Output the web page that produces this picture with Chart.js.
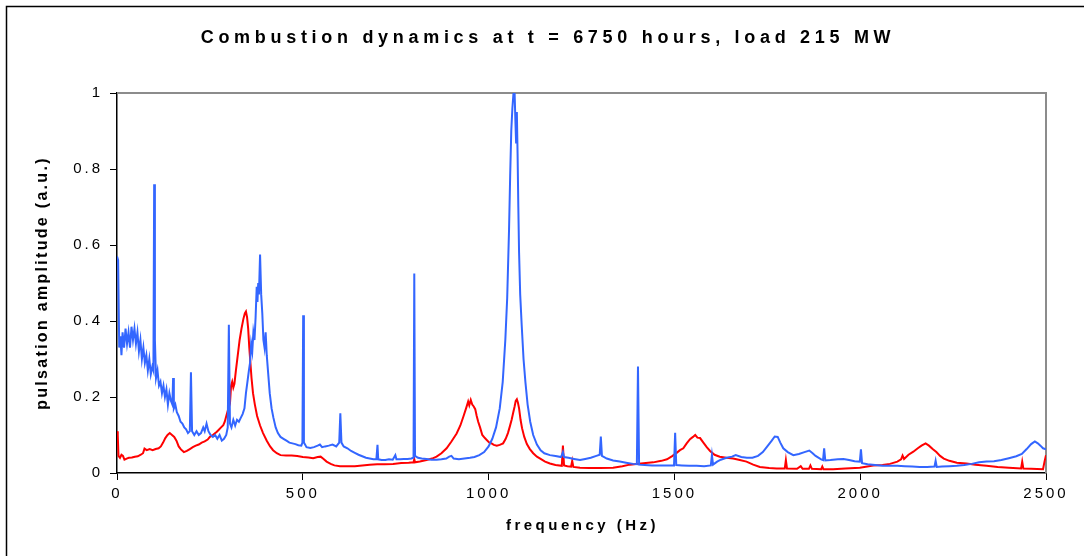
<!DOCTYPE html>
<html>
<head>
<meta charset="utf-8">
<script src="https://cdn.jsdelivr.net/npm/chart.js@4.4.1/dist/chart.umd.min.js"></script>
<style>
  body { margin: 0; background: #fff; }
  #wrap { width: 1084px; height: 556px; position: relative; }
</style>
</head>
<body>
<div id="wrap"><canvas id="myChart"></canvas></div>
<script>
const titleText = 'Combustion dynamics at t = 6750 hours, load 215 MW'
const xTitle = 'frequency (Hz)'
const yTitle = 'pulsation amplitude (a.u.)'
const xTicks = [0, 500, 1000, 1500, 2000, 2500]
const yTicks = [0, 0.2, 0.4, 0.6, 0.8, 1]

// blue trace
const blueHz = [0, 3, 6, 9, 12, 15, 19, 23, 27, 31, 35, 39, 43, 47, 51, 55, 59, 63, 67, 71, 75, 79, 83, 87, 91, 95, 98, 100, 102, 105, 109, 113, 117, 121, 125, 129, 133, 137, 141, 145, 149, 151, 153, 157, 161, 166, 171, 176, 181, 186, 191, 196, 199, 202, 208, 214, 220, 226, 232, 236, 241, 246, 252, 258, 264, 270, 276, 282, 288, 294, 298, 301, 304, 308, 313, 318, 323, 328, 333, 338, 343, 347, 351, 355, 358, 361, 364, 367, 370, 373, 376, 378, 380, 382, 385, 388, 391, 394, 397, 400, 403, 407, 411, 416, 421, 427, 433, 440, 448, 456, 464, 472, 480, 488, 496, 499, 501, 503, 510, 520, 530, 540, 546, 552, 560, 570, 580, 590, 598, 601, 604, 610, 620, 630, 640, 650, 660, 670, 680, 690, 698, 701, 703, 712, 722, 732, 742, 749, 752, 762, 772, 782, 792, 798, 800, 802, 810, 820, 833, 846, 860, 873, 886, 894, 900, 906, 920, 935, 950, 962, 975, 988, 1000, 1010, 1020, 1030, 1038, 1045, 1050, 1055, 1058, 1061, 1064, 1067, 1070, 1072, 1074, 1076, 1078, 1080, 1082, 1085, 1089, 1094, 1099, 1105, 1112, 1120, 1130, 1140, 1150, 1165, 1180, 1195, 1200, 1203, 1215, 1230, 1246, 1260, 1275, 1290, 1299, 1302, 1305, 1318, 1335, 1353, 1370, 1389, 1399, 1402, 1405, 1420, 1440, 1460, 1480, 1499, 1502, 1505, 1520, 1540, 1560, 1580, 1598, 1601, 1604, 1615, 1625, 1640, 1655, 1665, 1680, 1695, 1710, 1725, 1738, 1750, 1762, 1770, 1778, 1785, 1793, 1805, 1820, 1835, 1850, 1863, 1872, 1880, 1895, 1900, 1903, 1906, 1920, 1940, 1955, 1970, 1985, 1999, 2002, 2005, 2020, 2040, 2060, 2080, 2100, 2120, 2140, 2160, 2180, 2200, 2203, 2206, 2220, 2240, 2260, 2280, 2300, 2320, 2340, 2360, 2380, 2400, 2420, 2435, 2448, 2460, 2470, 2478, 2485, 2492, 2500]
const blueAmp = [0.57, 0.56, 0.33, 0.36, 0.31, 0.37, 0.33, 0.38, 0.34, 0.37, 0.33, 0.385, 0.35, 0.38, 0.34, 0.37, 0.32, 0.35, 0.3, 0.33, 0.29, 0.31, 0.27, 0.3, 0.26, 0.28, 0.27, 0.76, 0.35, 0.25, 0.27, 0.23, 0.24, 0.21, 0.23, 0.2, 0.22, 0.18, 0.21, 0.19, 0.18, 0.25, 0.17, 0.18, 0.16, 0.15, 0.135, 0.13, 0.12, 0.115, 0.105, 0.11, 0.265, 0.11, 0.1, 0.11, 0.1, 0.105, 0.12, 0.11, 0.13, 0.11, 0.1, 0.095, 0.1, 0.09, 0.1, 0.085, 0.09, 0.1, 0.12, 0.39, 0.13, 0.12, 0.14, 0.125, 0.14, 0.135, 0.145, 0.155, 0.17, 0.21, 0.24, 0.27, 0.29, 0.34, 0.32, 0.37, 0.35, 0.41, 0.49, 0.45, 0.5, 0.47, 0.575, 0.47, 0.42, 0.35, 0.33, 0.37, 0.31, 0.26, 0.21, 0.17, 0.145, 0.12, 0.105, 0.095, 0.09, 0.085, 0.08, 0.078, 0.076, 0.073, 0.072, 0.08, 0.415, 0.08, 0.068, 0.066, 0.068, 0.072, 0.075, 0.068, 0.07, 0.072, 0.075, 0.07, 0.08, 0.157, 0.08, 0.07, 0.065, 0.058, 0.053, 0.048, 0.044, 0.04, 0.038, 0.036, 0.036, 0.074, 0.036, 0.034, 0.034, 0.036, 0.035, 0.047, 0.036, 0.036, 0.037, 0.037, 0.038, 0.04, 0.525, 0.045, 0.04, 0.038, 0.037, 0.035, 0.035, 0.036, 0.038, 0.043, 0.045, 0.038, 0.036, 0.038, 0.04, 0.042, 0.047, 0.055, 0.07, 0.09, 0.12, 0.17, 0.24, 0.35, 0.46, 0.64, 0.78, 0.9, 0.96, 1.0, 1.0, 0.93, 0.87, 0.95, 0.84, 0.7, 0.58, 0.47, 0.39, 0.3, 0.24, 0.18, 0.135, 0.1, 0.075, 0.06, 0.052, 0.047, 0.045, 0.042, 0.055, 0.042, 0.04, 0.037, 0.034, 0.037, 0.04, 0.045, 0.048, 0.096, 0.045, 0.038, 0.033, 0.03, 0.027, 0.024, 0.023, 0.28, 0.022, 0.021, 0.02, 0.02, 0.02, 0.02, 0.106, 0.021, 0.02, 0.019, 0.019, 0.018, 0.02, 0.047, 0.022, 0.03, 0.035, 0.04, 0.043, 0.047, 0.042, 0.04, 0.04, 0.045, 0.055, 0.07, 0.085, 0.096, 0.095, 0.08, 0.065, 0.055, 0.047, 0.05, 0.055, 0.059, 0.052, 0.045, 0.036, 0.034, 0.065, 0.033, 0.034, 0.036, 0.037, 0.034, 0.031, 0.03, 0.062, 0.026, 0.023, 0.021, 0.019, 0.019, 0.019, 0.018, 0.017, 0.016, 0.016, 0.017, 0.032, 0.016, 0.017, 0.018, 0.019, 0.021, 0.024, 0.028, 0.03, 0.031, 0.034, 0.039, 0.044, 0.05, 0.063, 0.076, 0.083, 0.078, 0.072, 0.065, 0.062]

// red trace
const redHz = [0, 2, 4, 8, 12, 16, 20, 26, 32, 40, 48, 56, 64, 70, 74, 80, 88, 96, 104, 112, 118, 124, 130, 136, 142, 148, 154, 160, 166, 172, 180, 188, 196, 204, 212, 220, 228, 236, 244, 250, 256, 262, 268, 274, 280, 286, 290, 295, 300, 304, 307, 310, 313, 316, 320, 325, 330, 335, 340, 344, 347, 350, 353, 356, 359, 362, 366, 371, 377, 385, 393, 403, 412, 420, 430, 440, 455, 470, 485, 500, 515, 528, 540, 548, 556, 564, 575, 585, 600, 620, 640, 660, 680, 700, 720, 743, 765, 785, 798, 800, 802, 815, 833, 848, 860, 873, 887, 900, 914, 924, 932, 940, 945, 948, 952, 956, 960, 964, 968, 972, 977, 983, 990, 995, 1002, 1008, 1014, 1022, 1030, 1039, 1046, 1052, 1057, 1062, 1066, 1070, 1073, 1076, 1079, 1082, 1086, 1090, 1096, 1103, 1111, 1120, 1130, 1140, 1152, 1165, 1180, 1197, 1200, 1203, 1212, 1222, 1225, 1228, 1246, 1270, 1300, 1335, 1360, 1380, 1410, 1443, 1465, 1480, 1495, 1506, 1515, 1524, 1533, 1542, 1550, 1556, 1562, 1569, 1578, 1587, 1596, 1608, 1622, 1640, 1658, 1676, 1694, 1712, 1730, 1755, 1775, 1797, 1800, 1803, 1830, 1840, 1845, 1862, 1866, 1870, 1895, 1898, 1901, 1927, 1960, 1999, 2035, 2060, 2080, 2100, 2110, 2114, 2118, 2130, 2143, 2155, 2165, 2176, 2185, 2195, 2205, 2215, 2225, 2240, 2260, 2286, 2310, 2340, 2370, 2400, 2433, 2436, 2439, 2460, 2492, 2496, 2500]
const redAmp = [0.11, 0.1, 0.045, 0.04, 0.048, 0.045, 0.035, 0.038, 0.04, 0.041, 0.043, 0.044, 0.048, 0.052, 0.064, 0.06, 0.063, 0.06, 0.063, 0.065, 0.07, 0.08, 0.092, 0.1, 0.105, 0.1, 0.095, 0.085, 0.07, 0.062, 0.055, 0.058, 0.063, 0.068, 0.072, 0.075, 0.08, 0.083, 0.088, 0.095, 0.098, 0.103, 0.108, 0.114, 0.12, 0.126, 0.135, 0.153, 0.17, 0.183, 0.23, 0.24, 0.225, 0.235, 0.27, 0.31, 0.35, 0.38, 0.405, 0.42, 0.425, 0.41, 0.38, 0.33, 0.29, 0.25, 0.21, 0.18, 0.15, 0.125, 0.105, 0.085, 0.07, 0.06, 0.052, 0.047, 0.046, 0.046, 0.045, 0.042, 0.041, 0.039, 0.042, 0.043, 0.037, 0.03, 0.024, 0.02, 0.018, 0.018, 0.018, 0.02, 0.022, 0.023, 0.023, 0.024, 0.026, 0.027, 0.028, 0.036, 0.028, 0.03, 0.034, 0.038, 0.043, 0.052, 0.065, 0.083, 0.104, 0.125, 0.148, 0.172, 0.188, 0.178, 0.192, 0.18, 0.175, 0.168, 0.15, 0.135, 0.12, 0.1, 0.092, 0.087, 0.08, 0.078, 0.074, 0.072, 0.074, 0.078, 0.09, 0.105, 0.122, 0.14, 0.158, 0.175, 0.19, 0.194, 0.185, 0.17, 0.14, 0.118, 0.095, 0.076, 0.063, 0.052, 0.043, 0.037, 0.03, 0.025, 0.021, 0.019, 0.072, 0.02, 0.018, 0.017, 0.032, 0.016, 0.014, 0.013, 0.013, 0.014, 0.018, 0.022, 0.025, 0.028, 0.032, 0.036, 0.045, 0.053, 0.06, 0.065, 0.078, 0.089, 0.095, 0.1, 0.093, 0.092, 0.08, 0.068, 0.058, 0.048, 0.043, 0.04, 0.038, 0.034, 0.03, 0.022, 0.016, 0.013, 0.012, 0.012, 0.034, 0.012, 0.011, 0.018, 0.011, 0.011, 0.02, 0.011, 0.01, 0.017, 0.01, 0.01, 0.012, 0.014, 0.02, 0.021, 0.024, 0.03, 0.036, 0.046, 0.037, 0.048, 0.056, 0.065, 0.072, 0.078, 0.072, 0.063, 0.055, 0.045, 0.038, 0.032, 0.027, 0.025, 0.022, 0.019, 0.016, 0.014, 0.012, 0.03, 0.012, 0.011, 0.01, 0.03, 0.047]

function toPoints(xs, ys) {
  return xs.map((x, i) => ({ x, y: ys[i] }))
}

const FONT = '"Liberation Sans", Arial, sans-serif'

// frame, plot border and the titles (letter spaced like the original)
const decor = {
  id: 'decor',
  beforeDraw(chart) {
    const ctx = chart.ctx
    ctx.letterSpacing = '3px'
    ctx.save()
    ctx.strokeStyle = '#000'
    ctx.lineWidth = 1.5
    ctx.beginPath()
    ctx.moveTo(6.5, 556)
    ctx.lineTo(6.5, 6.5)
    ctx.lineTo(1084, 6.5)
    ctx.stroke()
    ctx.restore()
  },
  beforeDatasetsDraw(chart) {
    const { ctx, chartArea: a } = chart
    ctx.save()
    ctx.strokeStyle = '#8c8c8c'
    ctx.lineWidth = 2
    ctx.beginPath()
    ctx.moveTo(a.left, a.top)
    ctx.lineTo(a.right, a.top)
    ctx.lineTo(a.right, a.bottom)
    ctx.stroke()
    ctx.restore()
  },
  afterDraw(chart) {
    const { ctx, chartArea: a } = chart
    ctx.save()
    ctx.fillStyle = '#000'
    ctx.textAlign = 'center'
    ctx.textBaseline = 'middle'

    ctx.font = 'bold 18px ' + FONT
    ctx.letterSpacing = '4.7px'
    ctx.fillText(titleText, 548, 38)

    ctx.font = 'bold 15px ' + FONT
    ctx.letterSpacing = '3.5px'
    ctx.fillText(xTitle, (a.left + a.right) / 2 + 1, 526)

    ctx.font = 'bold 16px ' + FONT
    ctx.letterSpacing = '2.3px'
    ctx.translate(43, (a.top + a.bottom) / 2)
    ctx.rotate(-Math.PI / 2)
    ctx.fillText(yTitle, 0, 0)
    ctx.restore()
  },
}

const ctx = document.getElementById('myChart').getContext('2d')
const chart = new Chart(ctx, {
  type: 'line',
  data: {
    datasets: [
      {
        label: 'blue',
        data: toPoints(blueHz, blueAmp),
        borderColor: 'rgb(51, 102, 255)',
        borderWidth: 2,
        pointRadius: 0,
        fill: false,
        tension: 0,
      },
      {
        label: 'red',
        data: toPoints(redHz, redAmp),
        borderColor: 'rgb(255, 0, 0)',
        borderWidth: 2,
        pointRadius: 0,
        fill: false,
        tension: 0,
      },
    ],
  },
  options: {
    responsive: true,
    maintainAspectRatio: false,
    animation: false,
    layout: { padding: { top: 93, right: 38, left: 0, bottom: 0 } },
    plugins: {
      legend: { display: false },
      title: { display: false },
      tooltip: { enabled: false },
    },
    scales: {
      x: {
        type: 'linear',
        min: 0,
        max: 2500,
        afterFit: (s) => { s.height = 83 },
        afterBuildTicks: (s) => { s.ticks = xTicks.map((v) => ({ value: v })) },
        grid: { drawOnChartArea: false, drawTicks: true, tickLength: 7, color: '#000' },
        border: { display: true, color: '#000', width: 1.5 },
        ticks: {
          padding: 5,
          color: '#000',
          font: { family: FONT, size: 15 },
          maxRotation: 0,
          callback: (v) => String(v),
        },
      },
      y: {
        min: 0,
        max: 1,
        afterFit: (s) => { s.width = 117 },
        afterBuildTicks: (s) => { s.ticks = yTicks.map((v) => ({ value: v })) },
        grid: { drawOnChartArea: false, drawTicks: true, tickLength: 7, color: '#000' },
        border: { display: true, color: '#000', width: 1.5 },
        ticks: {
          padding: 7,
          color: '#000',
          font: { family: FONT, size: 15 },
          callback: (v) => String(v),
        },
      },
    },
  },
  plugins: [decor],
})
</script>
</body>
</html>
